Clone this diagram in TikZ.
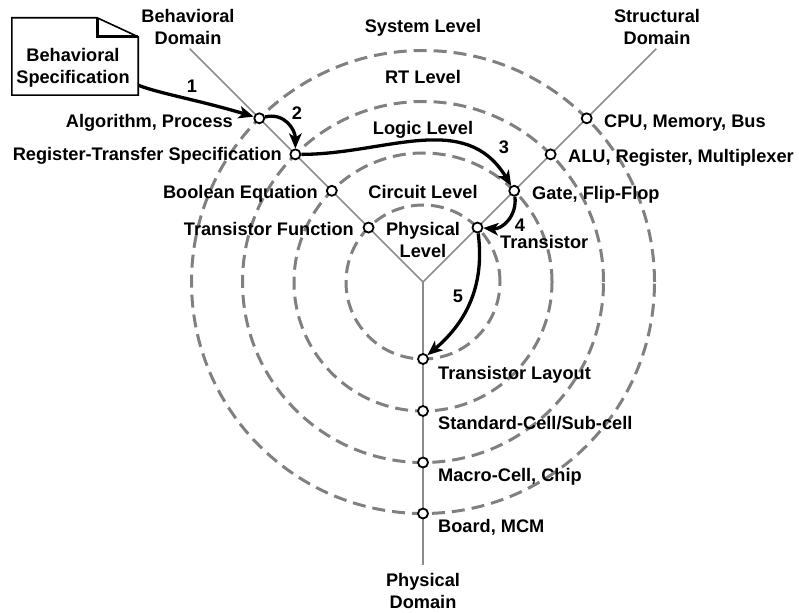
\documentclass[tikz,border=0pt]{standalone}
\usepackage{fontspec}
\setmainfont{Liberation Sans}
\usetikzlibrary{arrows.meta,calc}
\definecolor{ringgray}{RGB}{128,128,128}
\definecolor{axisgray}{RGB}{140,140,140}
\begin{document}
\begin{tikzpicture}[x=1pt,y=-1pt,
  txt/.style={font=\fontsize{18.2}{22}\selectfont\bfseries, inner sep=0pt, text height=13pt, text depth=3.8pt},
  mtxt/.style={font=\fontsize{18.2}{22}\selectfont\bfseries, inner sep=0pt, align=center},
  ring/.style={draw=ringgray, dash pattern=on 13pt off 7pt, line width=3pt},
  axis/.style={draw=axisgray, line width=1.7pt},
  pt/.style={circle, draw=black, fill=white, line width=1.8pt, inner sep=0pt, minimum size=10pt},
  flow/.style={draw=black, line width=3.3pt, -{Stealth[length=15pt,width=12.5pt,inset=4pt]}},
  specbox/.style={draw=none, minimum width=126pt, minimum height=77pt, inner sep=0pt}
]
\useasboundingbox (0,0) rectangle (799,612);
\coordinate (C) at (423,282);
% rings
\foreach \r in {77,129,180.5,231.5}
  \draw[ring] (C) circle[radius=\r pt];
% domain axes
\coordinate (bend) at ($(C)+(225:330)$);
\coordinate (send) at ($(C)+(315:330)$);
\coordinate (pend) at ($(C)+(90:283)$);
\draw[axis] (C) -- (bend);
\draw[axis] (C) -- (send);
\draw[axis] (C) -- (pend);
% points
\node[pt] (bA) at ($(C)+(225:231.5)$) {};
\node[pt] (bR) at ($(C)+(225:180.5)$) {};
\node[pt] (bB) at ($(C)+(225:129)$) {};
\node[pt] (bT) at ($(C)+(225:77)$) {};
\node[pt] (sC) at ($(C)+(315:231.5)$) {};
\node[pt] (sA) at ($(C)+(315:180.5)$) {};
\node[pt] (sG) at ($(C)+(315:129)$) {};
\node[pt] (sT) at ($(C)+(315:77)$) {};
\node[pt] (pT) at ($(C)+(90:77)$) {};
\node[pt] (pS) at ($(C)+(90:129)$) {};
\node[pt] (pM) at ($(C)+(90:180.5)$) {};
\node[pt] (pB) at ($(C)+(90:231.5)$) {};
% spec document
\node[specbox] (spec) at (75,56.5) {};
\draw[line width=1.6pt, line join=miter] (spec.south west) -- (spec.north west) -- ([xshift=-41pt]spec.north east) -- ([yshift=-19pt]spec.north east) -- (spec.south east) -- cycle;
\draw[line width=2.8pt] ([xshift=-41pt]spec.north east) -- ([xshift=-41pt,yshift=-19pt]spec.north east) -- ([yshift=-19pt]spec.north east);
\node[mtxt] (spectext) at (73,68) {Behavioral\\Specification};
% domain labels
\node[mtxt] (bdom) at (188,27) {Behavioral\\Domain};
\node[mtxt] (sdom) at (657,27) {Structural\\Domain};
\node[mtxt] (pdom) at (423,591) {Physical\\Domain};
% level labels
\node[txt] (lsys) at (423,27.5) {System Level};
\node[txt] (lrt) at (423,78.5) {RT Level};
\node[txt] (llog) at (423,129.5) {Logic Level};
\node[txt] (lcir) at (423,193.5) {Circuit Level};
\node[mtxt] (lphy) at (423,240) {Physical\\Level};
% point labels
\node[txt, anchor=east] (tA) at (233,122.5) {Algorithm, Process};
\node[txt, anchor=east] (tR) at (282,155.5) {Register-Transfer Specification};
\node[txt, anchor=east] (tB) at (318,193.5) {Boolean Equation};
\node[txt, anchor=east] (tT) at (354,230.5) {Transistor Function};
\node[txt, anchor=west] (uC) at (604,122.5) {CPU, Memory, Bus};
\node[txt, anchor=west] (uA) at (568,157.5) {ALU, Register, Multiplexer};
\node[txt, anchor=west] (uG) at (532,194.5) {Gate, Flip-Flop};
\node[txt, anchor=west] (uT) at (500,244) {Transistor};
\node[txt, anchor=west] (vT) at (438,374.5) {Transistor Layout};
\node[txt, anchor=west] (vS) at (438,424.5) {Standard-Cell/Sub-cell};
\node[txt, anchor=west] (vM) at (438,476.5) {Macro-Cell, Chip};
\node[txt, anchor=west] (vB) at (438,527.5) {Board, MCM};
% flow arrows
\coordinate (s1) at ([yshift=10pt]spec.south east);
\draw[flow] (s1) .. controls +(20,8) and +(-60,-18) .. (bA);
\draw[flow] (bA) .. controls +(25,-6) and +(0,-25) .. (bR);
\draw[flow] (bR) .. controls +(90,0) and +(-49,-81) .. (sG);
\draw[flow] (sG) .. controls +(3,25) and +(25,2) .. (sT);
\draw[flow] (sT) .. controls +(8,62) and +(40,-34) .. (pT);
\node[txt] (n1) at (192,87.5) {1};
\node[txt] (n2) at (297,114.5) {2};
\node[txt] (n3) at (504,148.5) {3};
\node[txt] (n4) at (520,227) {4};
\node[txt] (n5) at (458,297.5) {5};
\end{tikzpicture}
\end{document}
